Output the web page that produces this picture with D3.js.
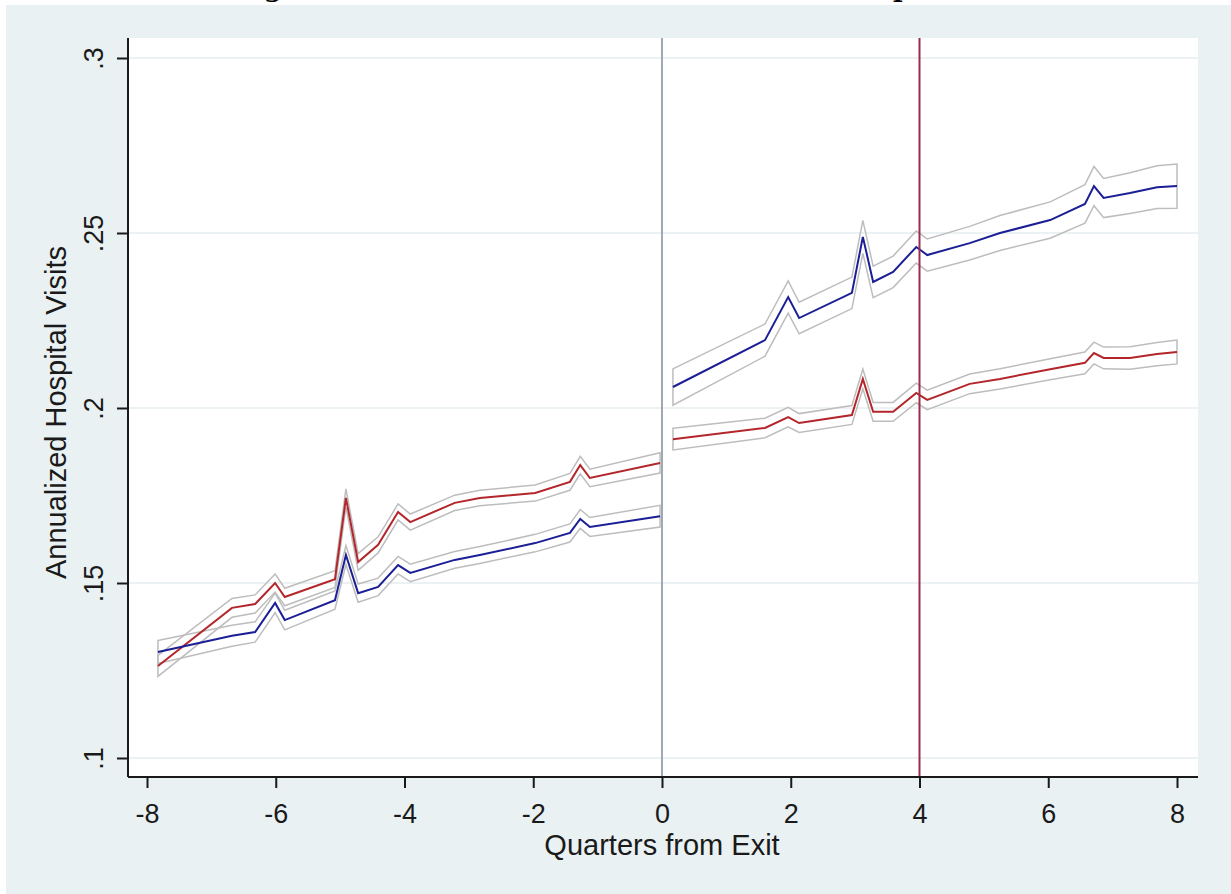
<!DOCTYPE html>
<html>
<head>
<meta charset="utf-8">
<script src="https://cdn.jsdelivr.net/npm/d3@7"></script>
<style>
	body { margin: 0; background: #ffffff; }
	svg { display: block; font-family: "Liberation Sans", Arial, sans-serif; }
</style>
</head>
<body>
<div id="chart"></div>
<script>
// quarters relative to exit
var preQuarters = [-7.83, -6.68, -6.32, -6.01, -5.86, -5.08, -4.91, -4.72, -4.41, -4.10, -3.91, -3.22, -2.83, -1.97, -1.43, -1.27, -1.12, -0.03];
var preRed  = [0.1263, 0.1429, 0.1440, 0.1500, 0.1460, 0.1511, 0.1743, 0.1560, 0.1609, 0.1703, 0.1674, 0.1729, 0.1743, 0.1757, 0.1789, 0.1837, 0.1800, 0.1843];
var preBlue = [0.1303, 0.1349, 0.1360, 0.1443, 0.1394, 0.1451, 0.1580, 0.1471, 0.1489, 0.1551, 0.1529, 0.1566, 0.1580, 0.1614, 0.1643, 0.1683, 0.1660, 0.1691];
var preRedSe  = [0.0030, 0.0027, 0.0026, 0.0026, 0.0025, 0.0024, 0.0026, 0.0024, 0.0023, 0.0023, 0.0023, 0.0022, 0.0022, 0.0023, 0.0024, 0.0025, 0.0025, 0.0029];
var preBlueSe = [0.0033, 0.0030, 0.0029, 0.0028, 0.0028, 0.0026, 0.0027, 0.0026, 0.0025, 0.0025, 0.0025, 0.0024, 0.0024, 0.0025, 0.0026, 0.0027, 0.0027, 0.0031];

var postQuarters = [0.17, 1.60, 1.96, 2.13, 2.95, 3.12, 3.28, 3.59, 3.95, 4.12, 4.78, 5.25, 6.03, 6.57, 6.71, 6.86, 7.27, 7.69, 8.00];
var postRed  = [0.1911, 0.1943, 0.1974, 0.1957, 0.1980, 0.2083, 0.1989, 0.1989, 0.2043, 0.2023, 0.2069, 0.2083, 0.2111, 0.2129, 0.2157, 0.2143, 0.2143, 0.2154, 0.2160];
var postBlue = [0.2060, 0.2194, 0.2317, 0.2257, 0.2329, 0.2489, 0.2360, 0.2389, 0.2460, 0.2437, 0.2471, 0.2500, 0.2537, 0.2583, 0.2634, 0.2600, 0.2614, 0.2631, 0.2634];
var postRedSe  = [0.0031, 0.0028, 0.0028, 0.0027, 0.0027, 0.0028, 0.0027, 0.0027, 0.0028, 0.0028, 0.0028, 0.0029, 0.0030, 0.0031, 0.0031, 0.0031, 0.0032, 0.0033, 0.0034];
var postBlueSe = [0.0052, 0.0046, 0.0046, 0.0045, 0.0045, 0.0047, 0.0045, 0.0045, 0.0046, 0.0046, 0.0048, 0.0050, 0.0052, 0.0055, 0.0056, 0.0056, 0.0058, 0.0061, 0.0063];

var xTicks = [-8, -6, -4, -2, 0, 2, 4, 6, 8];
var xTickLabels = ['-8', '-6', '-4', '-2', '0', '2', '4', '6', '8'];
var yTicks = [0.1, 0.15, 0.2, 0.25, 0.3];
var yTickLabels = ['.1', '.15', '.2', '.25', '.3'];
var refLines = [0, 4];

var svgWidth = 1231,
    svgHeight = 894,
    plotLeft = 128,
    plotRight = 1198,
    plotTop = 38,
    plotBottom = 777;

var svg = d3.select('#chart')
	.append('svg')
	.attr('width', svgWidth)
	.attr('height', svgHeight);

// outer graph region
svg.append('rect')
	.attr('x', 6).attr('y', 5)
	.attr('width', svgWidth - 6).attr('height', svgHeight - 5)
	.attr('fill', '#e9f1f3');

// title of the page above, only its descenders show at the very top
svg.append('text').attr('x', 264).attr('y', -3)
	.attr('font-family', 'DejaVu Serif').attr('font-weight', 'bold').attr('font-size', 26).text('g');
svg.append('text').attr('x', 893).attr('y', -3)
	.attr('font-family', 'DejaVu Serif').attr('font-weight', 'bold').attr('font-size', 26).text('p');

// plot region
svg.append('rect')
	.attr('x', plotLeft).attr('y', plotTop)
	.attr('width', plotRight - plotLeft).attr('height', plotBottom - plotTop)
	.attr('fill', '#ffffff');

var x = d3.scaleLinear().domain([-8, 8]).range([147, 1177]);
var y = d3.scaleLinear().domain([0.1, 0.3]).range([758, 58]);

// gridlines
svg.append('g')
	.selectAll('line')
	.data(yTicks)
	.enter()
	.append('line')
	.attr('x1', plotLeft).attr('x2', plotRight)
	.attr('y1', function(d){ return y(d); })
	.attr('y2', function(d){ return y(d); })
	.attr('stroke', '#e6eef0')
	.attr('stroke-width', 1.5);

function toRows(qs, vals, se){
	return qs.map(function(q, i){
		return {q: q, v: vals[i], lo: vals[i] - se[i], hi: vals[i] + se[i]};
	});
}

var series = [
	{rows: toRows(preQuarters, preRed, preRedSe), color: '#b3262b'},
	{rows: toRows(preQuarters, preBlue, preBlueSe), color: '#1b1f96'},
	{rows: toRows(postQuarters, postRed, postRedSe), color: '#b3262b'},
	{rows: toRows(postQuarters, postBlue, postBlueSe), color: '#1b1f96'}
];

var band = d3.area()
	.x(function(d){ return x(d.q); })
	.y0(function(d){ return y(d.lo); })
	.y1(function(d){ return y(d.hi); });

var line = d3.line()
	.x(function(d){ return x(d.q); })
	.y(function(d){ return y(d.v); });

// confidence bands drawn as outlines
svg.append('g')
	.selectAll('path')
	.data(series)
	.enter()
	.append('path')
	.attr('d', function(d){ return band(d.rows); })
	.attr('fill', 'none')
	.attr('stroke', '#bdbdbd')
	.attr('stroke-width', 1.5);

svg.append('g')
	.selectAll('path')
	.data(series)
	.enter()
	.append('path')
	.attr('d', function(d){ return line(d.rows); })
	.attr('fill', 'none')
	.attr('stroke', function(d){ return d.color; })
	.attr('stroke-width', 2);

// vertical reference lines
svg.append('g')
	.selectAll('line')
	.data(refLines)
	.enter()
	.append('line')
	.attr('x1', function(d){ return x(d); })
	.attr('x2', function(d){ return x(d); })
	.attr('y1', plotTop).attr('y2', plotBottom)
	.attr('stroke', function(d){ return d === 0 ? '#7f8d9a' : '#9b2c4c'; })
	.attr('stroke-width', function(d){ return d === 0 ? 1.5 : 2; });

// axes
var xAxis = svg.append('g')
	.attr('transform', 'translate(0,' + plotBottom + ')')
	.call(d3.axisBottom(x).tickValues(xTicks).tickSize(11).tickPadding(16).tickSizeOuter(0)
		.tickFormat(function(d, i){ return xTickLabels[i]; }));
xAxis.select('.domain').attr('d', 'M' + plotLeft + ',0H' + plotRight);

var yAxis = svg.append('g')
	.attr('transform', 'translate(' + plotLeft + ',0)')
	.call(d3.axisLeft(y).tickValues(yTicks).tickSize(11).tickSizeOuter(0)
		.tickFormat(function(d, i){ return yTickLabels[i]; }));
yAxis.select('.domain').attr('d', 'M0,' + plotTop + 'V' + plotBottom);

svg.selectAll('.domain, .tick line').attr('stroke', '#1a1a1a').attr('stroke-width', 2);
svg.selectAll('.tick text').attr('font-size', 27).attr('fill', '#1a1a1a').attr('font-family', '"Liberation Sans", Arial, sans-serif');

yAxis.selectAll('.tick text')
	.attr('x', 0).attr('dy', 0)
	.attr('text-anchor', 'middle')
	.attr('transform', 'translate(-25,0) rotate(-90)');

// axis titles
svg.append('text')
	.attr('x', x(0)).attr('y', 855)
	.attr('text-anchor', 'middle')
	.attr('font-size', 29)
	.attr('fill', '#1a1a1a')
	.text('Quarters from Exit');

svg.append('text')
	.attr('transform', 'translate(66,' + ((plotTop + plotBottom) / 2 + 5) + ') rotate(-90)')
	.attr('text-anchor', 'middle')
	.attr('font-size', 29)
	.attr('fill', '#1a1a1a')
	.text('Annualized Hospital Visits');
</script>
</body>
</html>
